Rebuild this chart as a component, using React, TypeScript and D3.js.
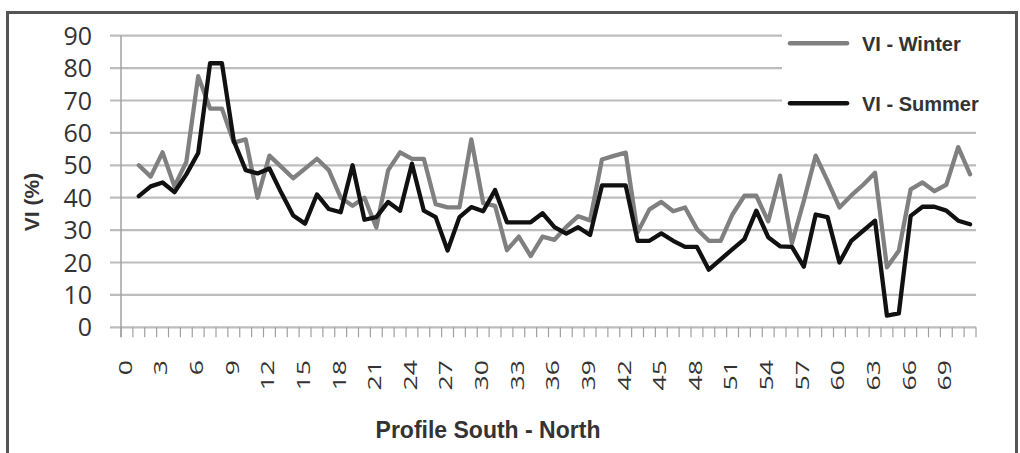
import React from "react";
import * as d3 from "d3";

const categories: number[] = Array.from({ length: 72 }, (_, i) => i);
const tickLabels: number[] = [0, 3, 6, 9, 12, 15, 18, 21, 24, 27, 30, 33, 36, 39, 42, 45, 48, 51, 54, 57, 60, 63, 66, 69];
const yTicks: number[] = [0, 10, 20, 30, 40, 50, 60, 70, 80, 90];

const winter: (number | null)[] = [
  null, 50, 46.5, 54, 43.5, 51, 77.5, 67.5, 67.5, 57, 58,
  40, 53, 49.5, 46, 49, 52, 48.5, 40, 37.5, 40,
  30.8, 48.5, 54, 52, 52, 38, 37, 37, 58, 38.3,
  37.5, 23.8, 28, 22, 28, 27, 31, 34.3, 33, 51.8,
  52.9, 53.9, 29.3, 36.4, 38.7, 35.8, 37, 30.3, 26.7, 26.7,
  34.9, 40.6, 40.6, 32.7, 46.8, 26, 39, 53, 45.2, 37,
  40.7, 44, 47.7, 18.5, 23.6, 42.6, 44.7, 42, 44, 55.6,
  47.2,
];

const summer: (number | null)[] = [
  null, 40.5, 43.5, 44.7, 41.7, 47.2, 53.8, 81.5, 81.5, 57.5, 48.5,
  47.5, 49, 41.5, 34.5, 32, 41, 36.5, 35.5, 50, 33.2,
  34, 38.7, 36, 50.5, 36, 34, 23.7, 34, 37.1, 35.8,
  42.4, 32.4, 32.4, 32.4, 35.2, 30.9, 28.9, 30.9, 28.5, 43.8,
  43.8, 43.8, 26.7, 26.7, 29, 26.7, 24.8, 24.8, 17.8, 21,
  24.1, 27.2, 36, 27.8, 25, 24.8, 18.7, 34.8, 34, 20,
  26.7, 29.8, 32.9, 3.6, 4.3, 34.4, 37.2, 37.2, 36, 32.9,
  31.8,
];

const seriesNames = ["VI - Winter", "VI - Summer"];
const seriesColors = ["#808080", "#111111"];

export default function App() {
  const W = 1020, H = 453;
  const left = 121, right = 976, top = 35.7, bottom = 327.3;

  const x = d3.scaleBand<number>().domain(categories).range([left, right]).padding(0);
  const y = d3.scaleLinear().domain([0, 90]).range([bottom, top]);
  const cx = (i: number) => (x(i) as number) + x.bandwidth() / 2;

  const line = d3
    .line<number | null>()
    .defined((d) => d !== null)
    .x((_, i) => cx(i))
    .y((d) => y(d as number));

  const tickPositions = d3.range(categories.length + 1).map((i) => left + i * x.bandwidth());
  const legendLeft = 782;

  return (
    <svg width={W} height={H} style={{ position: "absolute", left: 0, top: 0, background: "#fff" }}>
      <rect x={7.5} y={12.5} width={1009} height={460} fill="#fff" stroke="#555" strokeWidth={3} />
      {/* gridlines */}
      {yTicks.map((t) => (
        <line key={"g" + t} x1={110} x2={right} y1={y(t)} y2={y(t)} stroke="#bdbdbd" strokeWidth={2.2} />
      ))}
      {/* y axis */}
      <line x1={left} x2={left} y1={top} y2={bottom + 10} stroke="#a0a0a0" strokeWidth={1.5} />
      {/* x ticks */}
      {tickPositions.map((p, i) => (
        <line key={"t" + i} x1={p} x2={p} y1={bottom} y2={bottom + 10} stroke="#a0a0a0" strokeWidth={1.2} />
      ))}
      {/* y tick labels */}
      {yTicks.map((t) => (
        <text key={"yl" + t} x={92} y={y(t)} dy="0.36em" textAnchor="end" fontFamily="'Open Sans', sans-serif" fontSize={25} fill="#333">
          {t}
        </text>
      ))}
      {/* x tick labels */}
      {tickLabels.map((t) => (
        <text
          key={"xl" + t}
          transform={`translate(${cx(t) - 2},360) rotate(-90) scale(1.4,1)`}
          textAnchor="end"
          dy="0.36em"
          fontFamily="'Open Sans', sans-serif"
          fontSize={19}
          fill="#333"
        >
          {t}
        </text>
      ))}
      {/* series */}
      <path d={line(winter) || ""} fill="none" stroke={seriesColors[0]} strokeWidth={4.3} strokeLinejoin="round" strokeLinecap="round" />
      <path d={line(summer) || ""} fill="none" stroke={seriesColors[1]} strokeWidth={4.3} strokeLinejoin="round" strokeLinecap="round" />
      {/* legend */}
      <rect x={legendLeft} y={20} width={225} height={98} fill="#fff" />
      {seriesNames.map((n, i) => {
        const ly = 43.3 + i * 60;
        return (
          <g key={n}>
            <line x1={790} x2={847} y1={ly} y2={ly} stroke={seriesColors[i]} strokeWidth={4.5} strokeLinecap="round" />
            <text x={862} y={ly} dy="0.36em" fontFamily="'Liberation Sans', Arial, sans-serif" fontWeight="bold" fontSize={20} fill="#333">
              {n}
            </text>
          </g>
        );
      })}
      {/* axis titles */}
      <text
        transform="translate(39,202) rotate(-90)"
        textAnchor="middle"
        fontFamily="'Liberation Sans', Arial, sans-serif"
        fontWeight="bold"
        fontSize={21}
        fill="#333"
      >
        VI (%)
      </text>
      <text x={488} y={438} textAnchor="middle" fontFamily="'Liberation Sans', Arial, sans-serif" fontWeight="bold" fontSize={23} fill="#333">
        Profile South - North
      </text>
    </svg>
  );
}
